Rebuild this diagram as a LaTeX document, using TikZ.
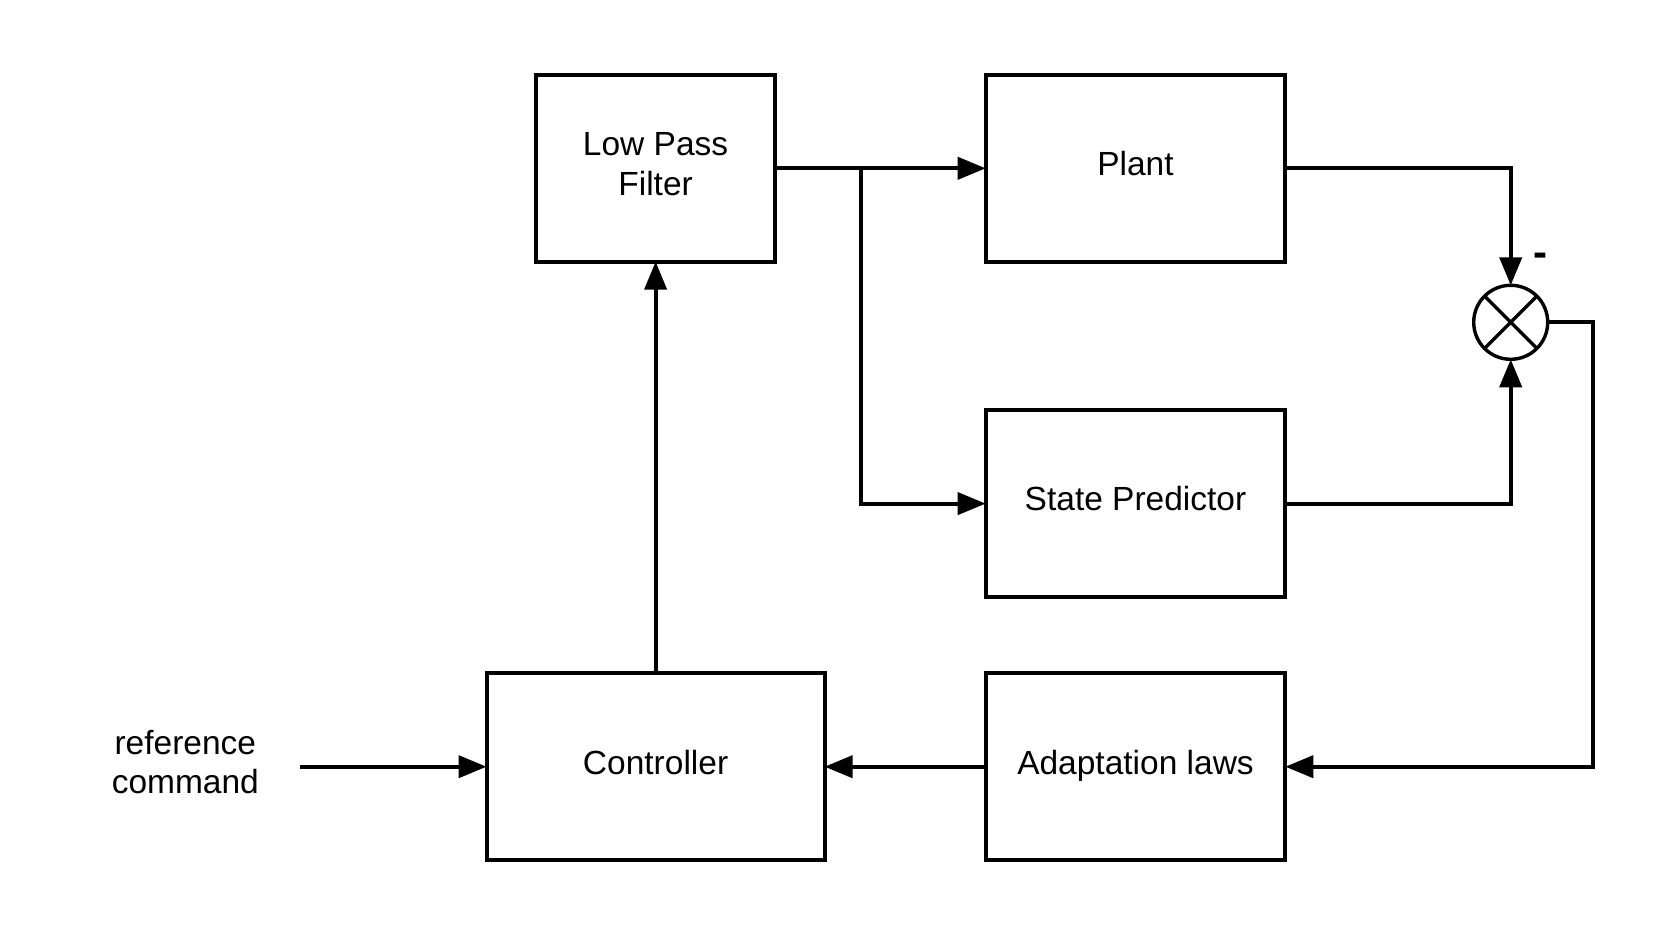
\documentclass[tikz,border=0pt]{standalone}
\usepackage{fontspec}
\setmainfont{Liberation Sans}
\usetikzlibrary{arrows.meta}
\begin{document}
\begin{tikzpicture}[x=1pt,y=-1pt,
  lbl/.style={font=\fontsize{33.5}{39.3}\selectfont},
  box/.style={draw, line width=4pt, inner sep=0pt, outer sep=0pt,
    minimum height=186.7pt, lbl, text height=22pt, text depth=7.4pt, align=center},
  conn/.style={line width=4pt},
  arr/.style={conn, -{Triangle[length=28pt,width=22pt]}},
]
\useasboundingbox (0,0) rectangle (1673,936);
\node[box, minimum width=239pt, text height=61.4pt] (lpf) at (655.6,168.3) {Low Pass\\Filter};
\node[box, minimum width=299.6pt] (plant) at (1135.5,168.3) {Plant};
\node[box, minimum width=299.6pt] (sp) at (1135.5,503.6) {State Predictor};
\node[box, minimum width=338pt] (ctrl) at (655.6,766.7) {Controller};
\node[box, minimum width=299.6pt] (adapt) at (1135.5,766.7) {Adaptation laws};
\node[draw, circle, line width=3.4pt, minimum size=74pt, inner sep=0pt, outer sep=0pt] (sum) at (1510.7,322.3) {};
\draw[line width=3.4pt] (sum.north west) -- (sum.south east) (sum.north east) -- (sum.south west);
\node[font=\fontsize{42}{46}\selectfont\bfseries, inner sep=0pt] (minus) at (1540.3,259.8) {-};
\node[lbl, align=center, inner sep=0pt] (ref) at (185.3,762) {reference\\command};
\coordinate (in) at (300,766.7);
\coordinate (br) at (860.7,168.3);
\draw[arr] (lpf.east) -- (plant.west);
\draw[arr] (br) |- (sp.west);
\draw[arr] (plant.east) -| (sum.north);
\draw[arr] (sp.east) -| (sum.south);
\draw[arr] (sum.east) -- ++(45.2,0) |- (adapt.east);
\draw[arr] (adapt.west) -- (ctrl.east);
\draw[arr] (ctrl.north) -- (lpf.south);
\draw[arr] (in) -- (ctrl.west);
\end{tikzpicture}
\end{document}
